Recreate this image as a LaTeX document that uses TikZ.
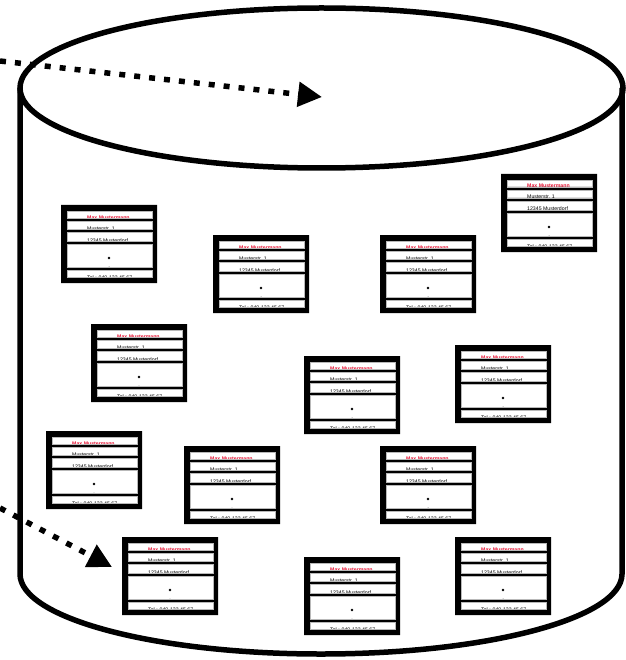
\documentclass[tikz,border=0pt]{standalone}
\usepackage{fontspec}
\setmainfont{Liberation Sans}
\usetikzlibrary{arrows.meta}
\definecolor{namered}{RGB}{232,24,56}
\tikzset{drum/.style={line width=5.5pt},
         feed/.style={line width=5.5pt,dash pattern=on 6pt off 9pt,
                      -{Triangle[length=24pt,width=24pt]}},
         cardtext/.style={anchor=base west,inner sep=0pt,
                          font=\fontsize{5.2}{6}\selectfont},
         cardrow/.style={draw=gray!55,line width=0.6pt}}

\begin{document}
\begin{tikzpicture}[x=1pt,y=-1pt]
    \useasboundingbox (0,0) rectangle (625,660);

    % the store
    \draw [drum] (321.5,88) ellipse [x radius=301.5,y radius=80];
    \draw [drum] (20,88) -- (20,574)
        arc [start angle=180,end angle=0,x radius=301,y radius=80]
        -- (622,88);

    % address cards
    \foreach \x/\y [count=\i] in {61/205,213/235,380/235,501/174,91/324,
        304/356,455/345,46/431,184/446,380/446,122/537,304/557,455/537} {
      \begin{scope}[shift={(\x,\y)}]
        \fill [white] (0,0) rectangle (96,78);
        \node [cardtext,text=namered,font=\fontsize{5.2}{6}\selectfont\bfseries]
            (name\i) at (26,14) {Max Mustermann};
        \node [cardtext] (street\i) at (26,25) {Musterstr. 1};
        \node [cardtext] (town\i) at (26,37) {12345 Musterdorf};
        \node [cardtext] (phone\i) at (26,74.5) {Tel.: 040-123 45 67};
        \fill (48,53) circle (1.3);
        \fill (48,62.5) circle (1);
        \fill [even odd rule] (0,0) rectangle (96,78)
            (6,6) rectangle (91,13) (6,16) rectangle (91,24)
            (6,27) rectangle (91,36) (6,39) rectangle (91,62)
            (6,65) rectangle (91,72);
        \draw [cardrow] (6,6) rectangle (91,13) (6,16) rectangle (91,24)
            (6,27) rectangle (91,36) (6,39) rectangle (91,62)
            (6,65) rectangle (91,72);
      \end{scope}
    }

    % incoming records
    \coordinate (inA) at (0,61);
    \coordinate (topA) at (322,97);
    \coordinate (inB) at (0,508);
    \coordinate (cardB) at (112,567);
    \draw [feed] (inA) -- (topA);
    \draw [feed] (inB) -- (cardB);
\end{tikzpicture}
\end{document}
